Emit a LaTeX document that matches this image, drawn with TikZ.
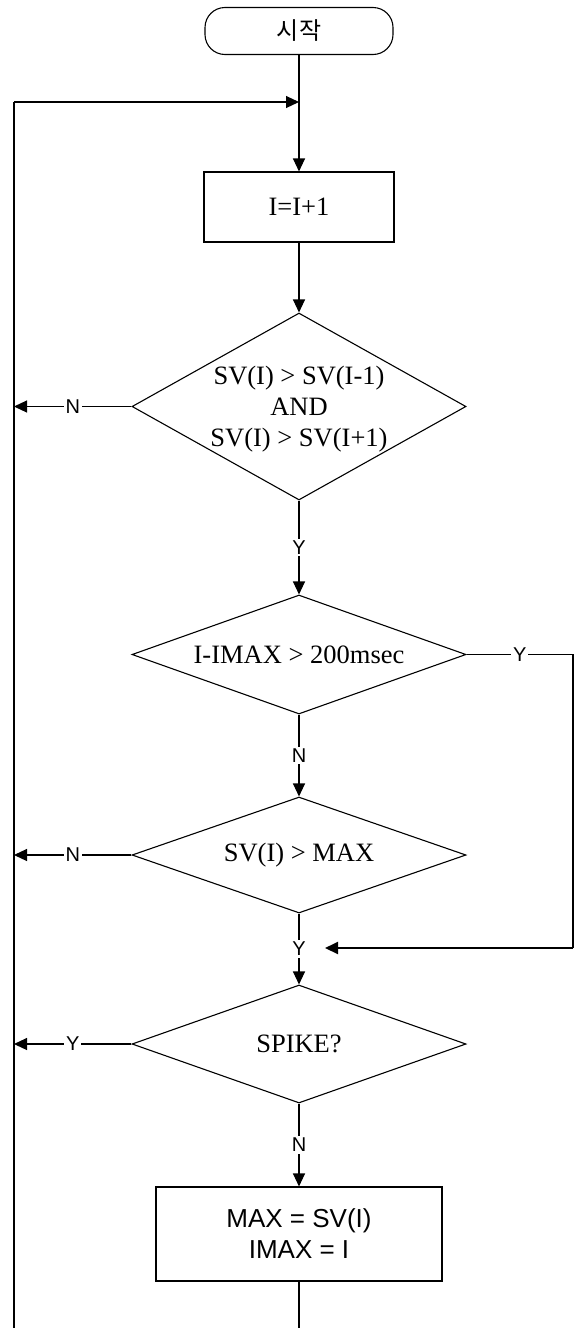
\documentclass[tikz,border=0pt]{standalone}
\usepackage{fontspec}
\setmainfont{Liberation Serif}
\newfontfamily\sansyn{Liberation Sans}
\newfontfamily\krfont{Noto Sans CJK KR}
\usetikzlibrary{arrows.meta,shapes.geometric}
\begin{document}
\begin{tikzpicture}[x=1pt,y=-1pt,line width=1.1pt,
  arr/.style={-{Triangle[length=13pt,width=12pt]}},
  dia/.style={draw,diamond,inner sep=0pt,minimum width=334pt},
  boxn/.style={draw,rectangle,inner sep=0pt},
  serif/.style={font=\fontsize{26.5}{31}\selectfont,align=center,inner sep=0pt},
  yn/.style={font=\sansyn\fontsize{20}{20}\selectfont,fill=white,inner sep=2pt}]
\useasboundingbox (0,0) rectangle (580,1328);
% nodes
\node[draw,rounded corners=20pt,minimum width=188pt,minimum height=47pt,
      font=\krfont\fontsize{24}{24}\selectfont] (start) at (299,31) {시작};
\node[boxn,minimum width=190pt,minimum height=70pt,serif] (box1) at (299,207) {I=I+1};
\node[dia,minimum height=187pt] (d1) at (299,406.5) {};
\node[serif] (d1t) at (299,409) {SV(I) > SV(I-1)\\AND\\SV(I) > SV(I+1)};
\node[dia,minimum height=119pt] (d2) at (299,654.5) {};
\node[serif] (d2t) at (d2) {I-IMAX > 200msec};
\node[dia,minimum height=116pt] (d3) at (299,855) {};
\node[serif] (d3t) at (d3) {SV(I) > MAX};
\node[dia,minimum height=118pt] (d4) at (299,1044) {};
\node[serif] (d4t) at (d4) {SPIKE?};
\node[boxn,minimum width=286pt,minimum height=94pt,align=center,
      font=\sansyn\fontsize{26}{31}\selectfont] (box2) at (299,1234) {MAX = SV(I)\\IMAX = I};
% coordinates
\coordinate (j1) at (299,102);
\coordinate (l0) at (14,102);
\coordinate (lb) at (14,1328);
\coordinate (bb) at (299,1328);
\coordinate (l1) at (14,406.5);
\coordinate (l3) at (14,855);
\coordinate (l4) at (14,1044);
\coordinate (r1) at (573,654.5);
\coordinate (r2) at (573,948);
\coordinate (m) at (325,948);
% connectors
\draw[arr] (start) -- (box1);
\draw[arr] (l0) -- (j1);
\draw (l0) -- (lb);
\draw[arr] (box1) -- (d1);
\draw[arr] (d1) -- node[yn]{Y} (d2);
\draw[arr] (d1.west) -- node[yn]{N} (l1);
\draw (d2.east) -- node[yn]{Y} (r1) -- (r2);
\draw[arr,line width=2pt] (r2) -- (m);
\draw[arr] (d2) -- node[yn]{N} (d3);
\draw[arr] (d3.west) -- node[yn]{N} (l3);
\draw[arr] (d3) -- node[yn]{Y} (d4);
\draw[arr] (d4.west) -- node[yn]{Y} (l4);
\draw[arr] (d4) -- node[yn]{N} (box2);
\draw (box2) -- (bb);
\end{tikzpicture}
\end{document}
